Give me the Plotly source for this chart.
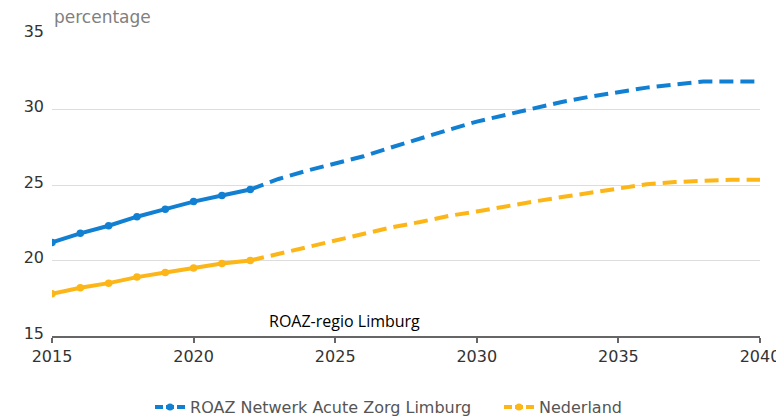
import plotly.graph_objects as go

years_hist = [2015, 2016, 2017, 2018, 2019, 2020, 2021, 2022]
roaz_hist = [21.2, 21.8, 22.3, 22.9, 23.4, 23.9, 24.3, 24.7]
nl_hist = [17.8, 18.2, 18.5, 18.9, 19.2, 19.5, 19.8, 20.0]

years_proj = list(range(2022, 2041))
roaz_proj = [24.7, 25.4, 25.95, 26.4, 26.9, 27.5, 28.1, 28.65, 29.2, 29.65, 30.1,
             30.5, 30.85, 31.15, 31.45, 31.65, 31.85, 31.85, 31.85]
nl_proj = [20.0, 20.45, 20.9, 21.3, 21.8, 22.2, 22.55, 22.95, 23.25, 23.6, 23.9,
           24.2, 24.5, 24.8, 25.05, 25.2, 25.3, 25.35, 25.35]

series_names = ["ROAZ Netwerk Acute Zorg Limburg", "Nederland"]
y_ticks = [15, 20, 25, 30, 35]
x_ticks = [2015, 2020, 2025, 2030, 2035, 2040]

BLUE = "#1280d2"
ORANGE = "#fdb617"
DASH = "14px,7px"

fig = go.Figure()
for name, hist, proj, col in [(series_names[0], roaz_hist, roaz_proj, BLUE),
                              (series_names[1], nl_hist, nl_proj, ORANGE)]:
    fig.add_trace(go.Scatter(x=years_proj, y=proj, mode="lines",
                             line=dict(color=col, width=4, dash=DASH),
                             showlegend=False, hoverinfo="x+y"))
    fig.add_trace(go.Scatter(x=years_hist, y=hist, mode="lines+markers",
                             line=dict(color=col, width=4),
                             marker=dict(color=col, size=7.5),
                             showlegend=False))
    fig.add_trace(go.Scatter(x=[None], y=[None], mode="lines+markers", name=name,
                             line=dict(color=col, width=4, dash="8px,3px"),
                             marker=dict(color=col, size=7)))

fig.update_layout(
    width=776, height=408,
    margin=dict(l=44, r=24, t=26.3, b=80.3, autoexpand=False),
    paper_bgcolor="white", plot_bgcolor="white",
    font=dict(family="DejaVu Sans", size=16, color="#333333"),
    showlegend=True,
    legend=dict(orientation="h", x=0.183, xref="container", xanchor="left",
                y=0.022, yref="container", yanchor="middle",
                font=dict(size=16, color="#555555"), itemwidth=30,
                entrywidth=304, entrywidthmode="pixels"),
    xaxis=dict(range=[2015, 2040], tickvals=x_ticks, showgrid=False,
               showline=True, linecolor="#666666", linewidth=2,
               ticks="outside", ticklen=5, tickcolor="#666666", tickwidth=2,
               tickfont=dict(size=16, color="#333333"), zeroline=False),
    yaxis=dict(range=[15, 35], tickvals=y_ticks, showgrid=True,
               gridcolor="#dddddd", gridwidth=1, showline=False, zeroline=False,
               ticks="", ticklabelstandoff=7, ticklabelshift=-3,
               tickfont=dict(size=16, color="#333333")),
    annotations=[
        dict(text="percentage", xref="paper", yref="paper", x=0, y=1,
             xanchor="left", yanchor="bottom", yshift=5, showarrow=False,
             font=dict(size=17, color="#808080", family="DejaVu Sans")),
        dict(text="ROAZ-regio Limburg", xref="x", yref="y", x=2022.6, y=15,
             xanchor="left", yanchor="bottom", yshift=2, showarrow=False,
             font=dict(size=16, color="#000000", family="Open Sans")),
    ],
)

fig.write_html("out.html")
